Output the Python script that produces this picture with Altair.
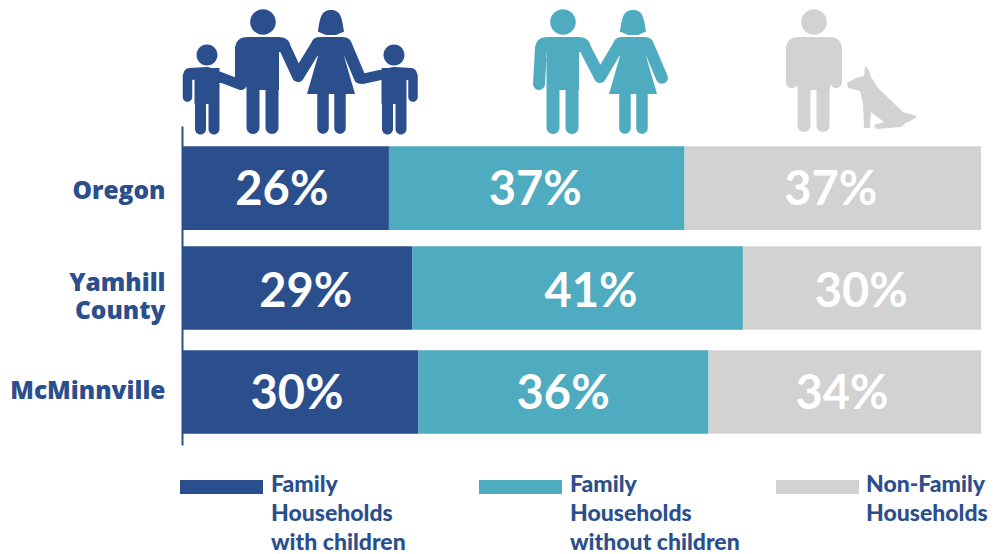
import math
import altair as alt
import pandas as pd

places = ["Oregon", "Yamhill County", "McMinnville"]
series = ["Family Households with children", "Family Households without children", "Non-Family Households"]
legend_text = ["Family\nHouseholds\nwith children", "Family\nHouseholds\nwithout children", "Non-Family\nHouseholds"]
colors = ["#2B4F8C", "#4FABBF", "#D2D2D2"]
with_children = [25.9, 28.8, 29.6]
without_children = [37.0, 41.4, 36.3]
non_family = [37.1, 29.8, 34.1]
label_center = [[12.5, 15.5, 14.4], [44.2, 51.2, 47.7], [81.2, 85.0, 82.6]]

BLUE, TEAL, GREY = colors
FONT = "Lato"
OX, OY = 182, 126  # page position of the plot origin


# ---- pictogram helpers: all subpaths share one winding so overlaps stay filled
def fmt(v):
    return f"{v:.2f}"


def poly(pts):
    area = sum(pts[i][0] * pts[(i + 1) % len(pts)][1] - pts[(i + 1) % len(pts)][0] * pts[i][1] for i in range(len(pts)))
    if area > 0:
        pts = pts[::-1]
    return "M" + "L".join(f"{fmt(x)},{fmt(y)}" for x, y in pts) + "Z"


def circle(cx, cy, r):
    return (f"M{fmt(cx + r)},{fmt(cy)}A{r},{r} 0 1 0 {fmt(cx - r)},{fmt(cy)}"
            f"A{r},{r} 0 1 0 {fmt(cx + r)},{fmt(cy)}Z")


def capsule(x1, y1, x2, y2, w):
    r = w / 2
    d = math.hypot(x2 - x1, y2 - y1)
    nx, ny = -(y2 - y1) / d * r, (x2 - x1) / d * r
    return (f"M{fmt(x1 + nx)},{fmt(y1 + ny)}L{fmt(x2 + nx)},{fmt(y2 + ny)}"
            f"A{r},{r} 0 0 0 {fmt(x2 - nx)},{fmt(y2 - ny)}"
            f"L{fmt(x1 - nx)},{fmt(y1 - ny)}"
            f"A{r},{r} 0 0 0 {fmt(x1 + nx)},{fmt(y1 + ny)}Z")


def shoulders(cx, half, inner, top, bottom):
    # rounded yoke: runs counter-clockwise on screen like the other subpaths
    return (f"M{cx - half + 13},{top}Q{cx - half},{top} {cx - half},{top + 13}"
            f"L{cx - inner},{top + 15}L{cx - inner},{bottom}L{cx + inner},{bottom}L{cx + inner},{top + 15}"
            f"L{cx + half},{top + 13}Q{cx + half},{top} {cx + half - 13},{top}Z")


def man(cx, left_hand, right_hand, bottom=134):
    return "".join([
        circle(cx, 22, 12.8),
        shoulders(cx, 28, 16, 37, 90),
        capsule(cx - 22, 48, left_hand[0], left_hand[1], 12),
        capsule(cx + 22, 48, right_hand[0], right_hand[1], 12),
        capsule(cx - 10, 60, cx - 10, bottom - 6.5, 13),
        capsule(cx + 9, 60, cx + 9, bottom - 6.5, 13),
    ])


def woman(cx, left_hand, right_hand):
    return "".join([
        f"M{cx},10C{cx - 9},10 {cx - 11},16 {cx - 13},32L{cx + 13},32C{cx + 11},16 {cx + 9},10 {cx},10Z",
        poly([(cx - 12, 32), (cx + 12, 32), (cx + 5, 35), (cx - 5, 35)]),
        f"M{cx - 11},37Q{cx - 20},37 {cx - 20},46L{cx - 13},56L{cx - 24},94L{cx + 24},94L{cx + 13},56L{cx + 21},46Q{cx + 21},37 {cx + 11},37Z",
        capsule(cx - 14, 45, left_hand[0], left_hand[1], 12),
        capsule(cx + 15, 45, right_hand[0], right_hand[1], 12),
        capsule(cx - 8, 85, cx - 8, 128, 11.5),
        capsule(cx + 9, 85, cx + 9, 128, 11.5),
    ])


def child(cx, inner_hand, outer_x):
    inset = 2 if outer_x < cx else -2
    return "".join([
        circle(cx, 55, 10.5),
        poly([(cx - 12.5, 68), (cx + 12.5, 68), (cx + 12.5, 104), (cx - 12.5, 104)]),
        capsule(outer_x + inset, 74, cx, 73, 12),
        capsule(outer_x, 76, outer_x, 97, 9.5),
        capsule(cx - 6.5, 95, cx - 6.5, 129, 11),
        capsule(cx + 7, 95, cx + 7, 129, 11),
        capsule(cx, 72, inner_hand[0], inner_hand[1], 10),
    ])


DOG = poly([(865, 66), (869, 70), (871, 77), (878, 88), (903, 112), (916, 116), (916, 118), (906, 123),
            (901, 127), (876, 129), (874, 125), (884, 122), (871, 112), (870, 128), (864, 128), (863, 103),
            (860, 91), (848, 88), (847, 83), (856, 78), (864, 76)])

family_icon = child(207, (241, 85), 187.5) + man(263, (241, 84), (298, 76)) + \
    woman(331, (298, 76), (360, 78)) + child(394, (362, 79), 413)
couple_icon = man(563, (539, 84), (600, 77)) + woman(633, (600, 77), (662, 78))
single_icon = man(814, (792, 82), (836, 82), 132) + DOG

rows = []
for k, vals in enumerate([with_children, without_children, non_family]):
    for j, p in enumerate(places):
        rows.append({"place": p, "series": series[k], "order": k, "value": vals[j],
                     "center": label_center[k][j], "label": f"{round(vals[j])}%"})
df = pd.DataFrame(rows)

x_scale = alt.Scale(domain=[0, 100], nice=False, zero=False)
y_scale = alt.Scale(domain=places, paddingInner=0.18, paddingOuter=0.154, align=0.645)
color_scale = alt.Scale(domain=series, range=colors)

ROW_SHIFT = "datum.place == 'Yamhill County' ? -2 : 0"

bars = alt.Chart(df).mark_bar(stroke=None, yOffset=alt.expr(ROW_SHIFT)).encode(
    x=alt.X("value:Q", stack="zero", scale=x_scale, axis=None),
    y=alt.Y("place:N", scale=y_scale, sort=places, title=None, axis=alt.Axis(
        domain=True, domainColor=BLUE, domainWidth=2, ticks=False, grid=False,
        labelFont="Open Sans", labelFontSize=24.5, labelFontWeight=800, labelColor=BLUE,
        labelPadding=17, labelLimit=175, labelLineHeight=28,
        labelOffset=alt.expr("datum.label == 'Oregon' ? 4 : datum.label == 'McMinnville' ? 0 : -6"),
        labelExpr="datum.label == 'Yamhill County' ? ['Yamhill', 'County'] : datum.label")),
    color=alt.Color("series:N", scale=color_scale, legend=None),
    order=alt.Order("order:Q"),
)

texts = alt.Chart(df).mark_text(
    font=FONT, fontSize=47, fontWeight=700, color="white", baseline="middle", align="center", dy=3
).encode(
    x=alt.X("center:Q", scale=x_scale, axis=None),
    y=alt.Y("place:N", scale=y_scale, sort=places, title=None),
    text="label:N",
)

layers = [bars, texts]

# pictograms: each point sits on the plot origin, its path is in page pixels relative to it
for path, col in [(family_icon, BLUE), (couple_icon, TEAL), (single_icon, GREY)]:
    layers.append(
        alt.Chart(pd.DataFrame({"icon": [col]})).mark_point(
            shape=path, size=4, filled=True, fill=col, stroke=None, opacity=1
        ).encode(x=alt.value(-OX), y=alt.value(-OY))
    )

# legend
for i, (sx, tx) in enumerate([(180, 271), (479, 570), (776, 866)]):
    ldf = pd.DataFrame({"series": [series[i]], "text": [legend_text[i]]})
    layers.append(alt.Chart(ldf).mark_rect(color=colors[i]).encode(
        x=alt.value(sx - OX), x2=alt.value(sx + 83 - OX), y=alt.value(480 - OY), y2=alt.value(494 - OY)))
    layers.append(alt.Chart(ldf).mark_text(
        font=FONT, fontSize=23, fontWeight=900, color=BLUE, align="left", baseline="top",
        lineBreak="\n", lineHeight=29
    ).encode(x=alt.value(tx - OX), y=alt.value(474 - OY), text="text:N"))

chart = alt.layer(*layers).properties(
    width=799, height=319,
    autosize=alt.AutoSizeParams(type="none"),
    padding={"left": OX - 8, "top": OY - 8, "right": 16, "bottom": 109},
    background="white",
).configure_view(stroke=None)

chart.save("out.html", embed_options={"renderer": "svg", "actions": False})
